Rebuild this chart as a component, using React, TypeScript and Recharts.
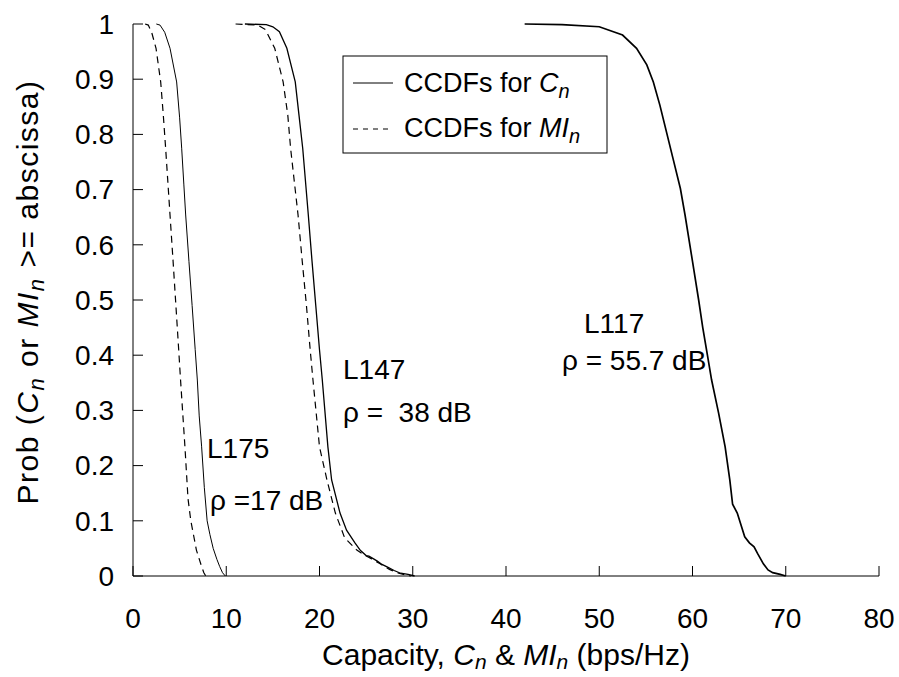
import { LineChart, Line, XAxis, YAxis } from "recharts";

// capacity (bps/Hz) vs probability
const L175_C_CAP = [2.5, 2.9, 3.4, 3.97, 4.68, 5.0, 5.22, 5.45, 5.65, 6.0, 6.34, 6.67, 6.9, 7.1, 7.36, 7.65, 7.95, 8.25, 8.6, 9.0, 9.3, 9.6, 9.9];
const L175_C_PROB = [1, 0.998, 0.985, 0.956, 0.895, 0.83, 0.775, 0.71, 0.654, 0.57, 0.49, 0.41, 0.355, 0.29, 0.234, 0.16, 0.1, 0.075, 0.05, 0.03, 0.017, 0.006, 0];

const L175_MI_CAP = [1.3, 1.64, 2.0, 2.47, 2.97, 3.25, 3.5, 3.97, 4.3, 4.6, 4.9, 5.1, 5.57, 5.9, 6.2, 6.8, 7.36, 7.6, 7.8];
const L175_MI_PROB = [1, 0.998, 0.985, 0.956, 0.895, 0.835, 0.775, 0.654, 0.57, 0.49, 0.41, 0.355, 0.234, 0.14, 0.1, 0.047, 0.017, 0.006, 0];

const L147_C_CAP = [12, 14.3, 15.0, 15.7, 16.5, 17.4, 17.8, 18.2, 18.8, 19.2, 19.6, 20.0, 20.3, 20.9, 21.3, 22.2, 22.9, 23.8, 24.4, 25.0, 25.3, 25.8, 26.2, 26.7, 27.3, 28.0, 28.7, 29.5, 30.2];
const L147_C_PROB = [1, 0.999, 0.995, 0.986, 0.956, 0.895, 0.835, 0.775, 0.654, 0.57, 0.49, 0.41, 0.355, 0.234, 0.174, 0.114, 0.083, 0.06, 0.046, 0.037, 0.036, 0.031, 0.027, 0.021, 0.016, 0.01, 0.005, 0.003, 0];

const L147_MI_CAP = [11, 13.4, 14.2, 15.2, 16.1, 16.6, 16.9, 17.7, 18.15, 18.6, 19.0, 19.3, 20.0, 20.8, 21.7, 22.7, 24.0, 24.8, 25.6, 26.5, 27.5, 28.5, 29.5, 29.8];
const L147_MI_PROB = [1, 0.998, 0.99, 0.956, 0.895, 0.835, 0.775, 0.654, 0.57, 0.49, 0.41, 0.355, 0.234, 0.174, 0.114, 0.069, 0.047, 0.038, 0.031, 0.022, 0.012, 0.005, 0.001, 0];

const L117_C_CAP = [42, 46, 50, 52.5, 54.0, 55.1, 55.8, 56.5, 57.2, 57.9, 58.7, 59.2, 60.0, 60.66, 61.1, 61.6, 62.05, 62.8, 63.5, 64.0, 64.3, 64.8, 65.6, 66.1, 66.6, 67.0, 67.6, 68.1, 68.6, 69.4, 70];
const L117_C_PROB = [1, 0.999, 0.995, 0.98, 0.956, 0.926, 0.895, 0.853, 0.805, 0.757, 0.702, 0.654, 0.57, 0.5, 0.45, 0.4, 0.355, 0.295, 0.234, 0.174, 0.13, 0.114, 0.071, 0.06, 0.053, 0.04, 0.022, 0.011, 0.006, 0.003, 0];

const X_TICKS = [0, 10, 20, 30, 40, 50, 60, 70, 80];
const Y_TICKS = [0, 0.1, 0.2, 0.3, 0.4, 0.5, 0.6, 0.7, 0.8, 0.9, 1];

const FONT = "'Liberation Sans', Arial, Helvetica, sans-serif";
const FS = 28;
const TICK_LEN = 10;

const toPoints = (cap: number[], prob: number[]) =>
  cap.map((c, i) => ({ c, p: prob[i] }));

const BottomTick = ({ x, y, payload }: any) => (
  <g>
    <line x1={x} x2={x} y1={y} y2={y - TICK_LEN} stroke="#000" />
    <text x={x} y={y + 52} textAnchor="middle" fontFamily={FONT} fontSize={FS} fill="#000">
      {payload.value}
    </text>
  </g>
);

const TopTick = ({ x, y }: any) => (
  <line x1={x} x2={x} y1={y} y2={y + TICK_LEN} stroke="#000" />
);

const LeftTick = ({ x, y, payload }: any) => (
  <g>
    <line x1={x} x2={x + TICK_LEN} y1={y} y2={y} stroke="#000" />
    <text x={x - 19} y={y} dy="0.35em" textAnchor="end" fontFamily={FONT} fontSize={FS} fill="#000">
      {String(payload.value)}
    </text>
  </g>
);

const RightTick = ({ x, y }: any) => (
  <line x1={x} x2={x - TICK_LEN} y1={y} y2={y} stroke="#000" />
);

export default function App() {
  const axis = { stroke: "#000", strokeWidth: 1 };
  return (
    <div style={{ position: "absolute", left: 0, top: 0, width: 899, height: 677, background: "#fff" }}>
      <LineChart width={899} height={677} margin={{ top: 24, right: 20, left: 0, bottom: 0 }}>
        <XAxis
          type="number"
          dataKey="c"
          domain={[0, 80]}
          ticks={X_TICKS}
          interval={0}
          height={101}
          tickSize={0}
          tickMargin={0}
          axisLine={axis}
          tickLine={false}
          tick={<BottomTick />}
        />
        <XAxis
          xAxisId="top"
          orientation="top"
          type="number"
          dataKey="c"
          domain={[0, 80]}
          ticks={X_TICKS}
          interval={0}
          height={0}
          tickSize={0}
          tickMargin={0}
          axisLine={axis}
          tickLine={false}
          tick={<TopTick />}
        />
        <YAxis
          type="number"
          domain={[0, 1]}
          ticks={Y_TICKS}
          interval={0}
          width={133}
          tickSize={0}
          tickMargin={0}
          axisLine={axis}
          tickLine={false}
          tick={<LeftTick />}
        />
        <YAxis
          yAxisId="right"
          orientation="right"
          type="number"
          domain={[0, 1]}
          ticks={Y_TICKS}
          interval={0}
          width={0}
          tickSize={0}
          tickMargin={0}
          axisLine={axis}
          tickLine={false}
          tick={<RightTick />}
        />
        <Line data={toPoints(L175_MI_CAP, L175_MI_PROB)} dataKey="p" type="linear" stroke="#000" strokeWidth={1.2} strokeDasharray="7 5" dot={false} isAnimationActive={false} />
        <Line data={toPoints(L175_C_CAP, L175_C_PROB)} dataKey="p" type="linear" stroke="#000" strokeWidth={1} dot={false} isAnimationActive={false} />
        <Line data={toPoints(L147_MI_CAP, L147_MI_PROB)} dataKey="p" type="linear" stroke="#000" strokeWidth={1.2} strokeDasharray="7 5" dot={false} isAnimationActive={false} />
        <Line data={toPoints(L147_C_CAP, L147_C_PROB)} dataKey="p" type="linear" stroke="#000" strokeWidth={1.3} dot={false} isAnimationActive={false} />
        <Line data={toPoints(L117_C_CAP, L117_C_PROB)} dataKey="p" type="linear" stroke="#000" strokeWidth={1.7} dot={false} isAnimationActive={false} />
      </LineChart>
      <svg
        width={899}
        height={677}
        style={{ position: "absolute", left: 0, top: 0, pointerEvents: "none" }}
        fontFamily={FONT}
        fontSize={FS}
      >
        {/* legend */}
        <rect x={343} y={56} width={264} height={97} fill="#fff" stroke="#000" strokeWidth={1} />
        <line x1={353} x2={393} y1={83} y2={83} stroke="#000" />
        <line x1={353} x2={393} y1={129} y2={129} stroke="#000" strokeDasharray="5 5" />
        <text x={404} y={92} fontSize={27}>
          <tspan>CCDFs for </tspan>
          <tspan fontStyle="italic">C</tspan>
          <tspan fontStyle="italic" fontSize={20} dy={6}>n</tspan>
        </text>
        <text x={404} y={137} fontSize={27}>
          <tspan>CCDFs for </tspan>
          <tspan fontStyle="italic">MI</tspan>
          <tspan fontStyle="italic" fontSize={20} dy={6}>n</tspan>
        </text>

        {/* annotations */}
        <text x={207} y={458}>L175</text>
        <text x={210} y={510} style={{ whiteSpace: "pre" }}>ρ =17 dB</text>
        <text x={343} y={379}>L147</text>
        <text x={343} y={422} style={{ whiteSpace: "pre" }}>ρ =  38 dB</text>
        <text x={584} y={333}>L117</text>
        <text x={562} y={370}>ρ = 55.7 dB</text>

        {/* axis titles */}
        <text x={506} y={665} textAnchor="middle" fontSize={30}>
          <tspan>Capacity, </tspan>
          <tspan fontStyle="italic">C</tspan>
          <tspan fontStyle="italic" fontSize={21} dy={4}>n</tspan>
          <tspan dy={-4} style={{ whiteSpace: "pre" }}> &amp; </tspan>
          <tspan fontStyle="italic">MI</tspan>
          <tspan fontStyle="italic" fontSize={21} dy={4}>n</tspan>
          <tspan dy={-4} style={{ whiteSpace: "pre" }}> (bps/Hz)</tspan>
        </text>
        <text x={38} y={292} textAnchor="middle" fontSize={30} letterSpacing={1.5} transform="rotate(-90 38 292)">
          <tspan>Prob (</tspan>
          <tspan fontStyle="italic">C</tspan>
          <tspan fontStyle="italic" fontSize={22} dy={6}>n</tspan>
          <tspan dy={-6} style={{ whiteSpace: "pre" }}> or </tspan>
          <tspan fontStyle="italic">MI</tspan>
          <tspan fontStyle="italic" fontSize={22} dy={6}>n</tspan>
          <tspan dy={-6} style={{ whiteSpace: "pre" }}> &gt;= abscissa)</tspan>
        </text>
      </svg>
    </div>
  );
}
